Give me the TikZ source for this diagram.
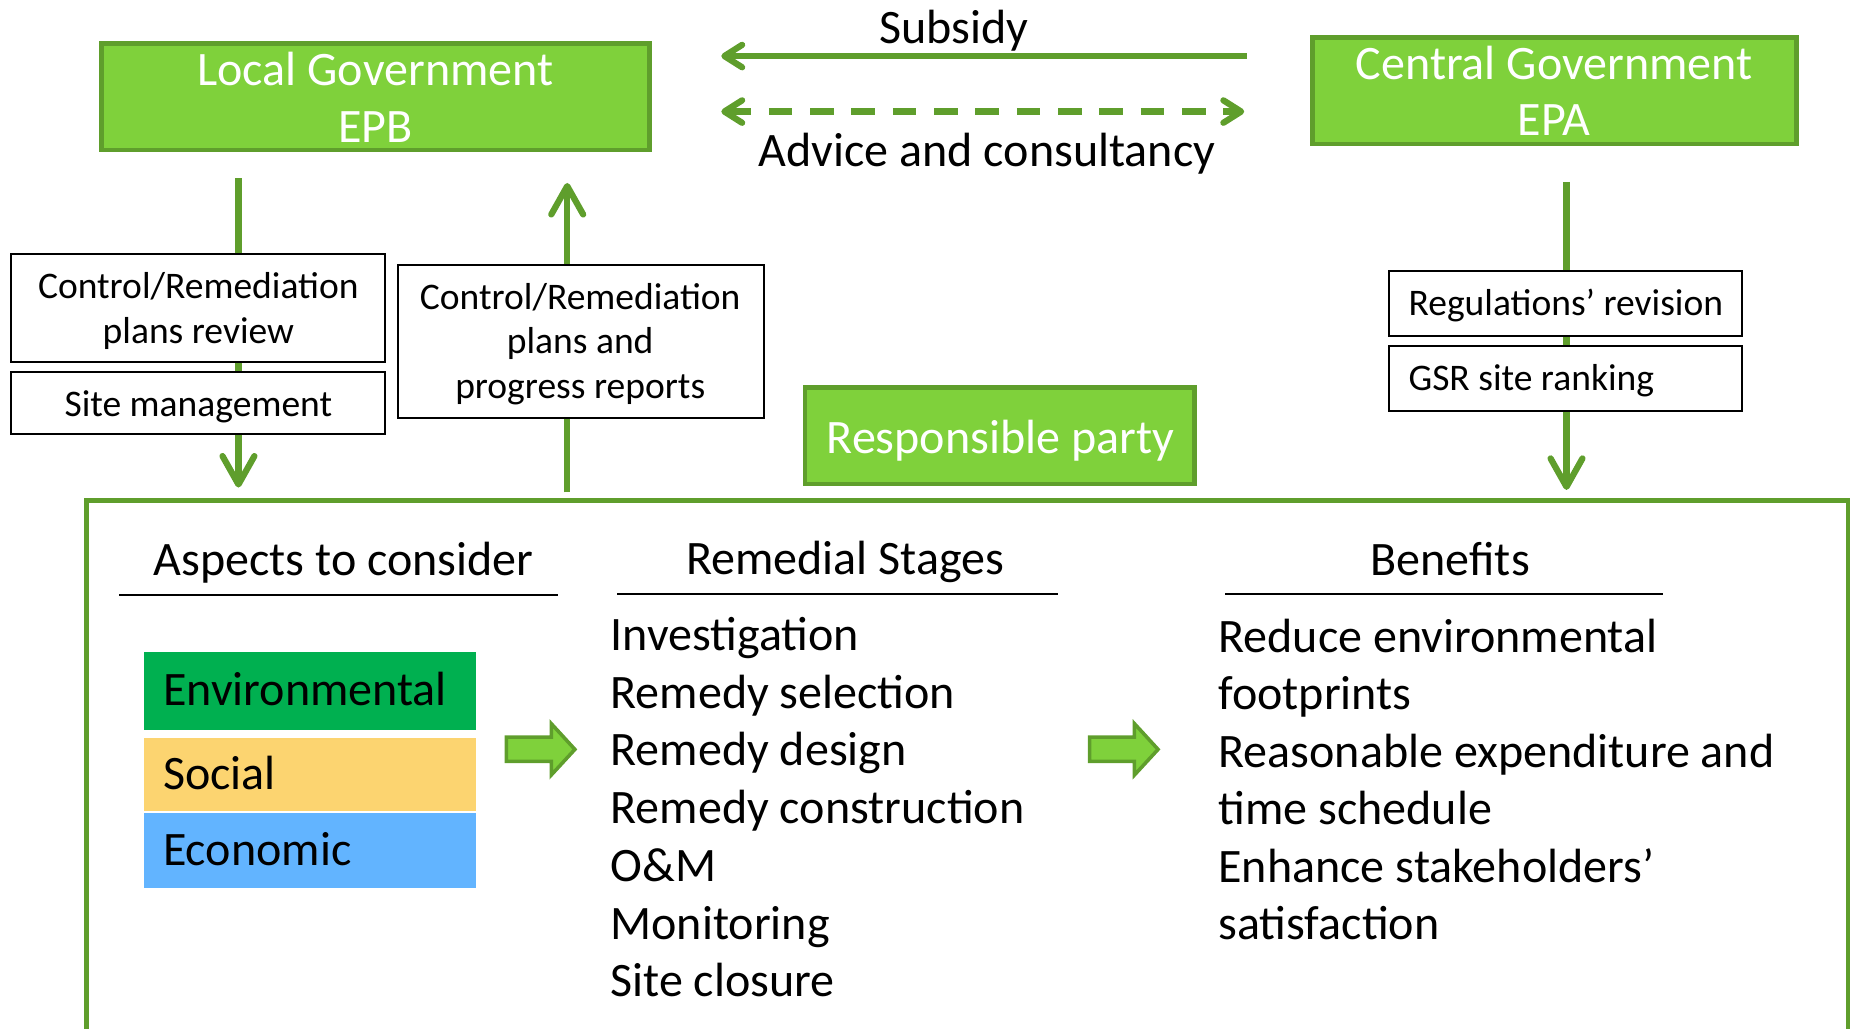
\documentclass[tikz,border=0pt]{standalone}
\usepackage{fontspec}
\setmainfont{Carlito}
\usetikzlibrary{arrows.meta}

\definecolor{gfill}{HTML}{7FD13B}
\definecolor{gline}{HTML}{5F9E2C}
\definecolor{envgreen}{HTML}{00B050}
\definecolor{socyellow}{HTML}{FCD470}
\definecolor{ecoblue}{HTML}{62B4FF}

\tikzset{
  big/.style={font=\fontsize{40.7}{48}\selectfont, inner sep=0pt},
  small/.style={font=\fontsize{31.8}{37}\selectfont, inner sep=0pt},
  greenbox/.style={draw=gline, fill=gfill, line width=4pt, inner sep=0pt},
  whitebox/.style={draw=black, fill=white, line width=1.8pt, inner sep=0pt},
  tagbox/.style={fill=#1, draw=none, inner sep=0pt, minimum width=281pt},
  vflow/.style={draw=gline, line width=5.3pt, -{Straight Barb[length=24pt, width=27pt, round]}},
  hflow/.style={draw=gline, line width=5.3pt, -{Straight Barb[length=15pt, width=19pt, round]}},
  hflowboth/.style={draw=gline, line width=5.3pt, dash pattern=on 20pt off 15pt,
    {Straight Barb[length=15pt, width=19pt, round]}-{Straight Barb[length=15pt, width=19pt, round]}},
  blockarrow/.style={draw=gline, fill=gfill, line width=3pt, line join=miter},
  frame/.style={draw=gline, line width=4pt},
  rule/.style={draw=black, line width=1.8pt},
}

\begin{document}
\begin{tikzpicture}[x=1pt, y=-1pt]
\useasboundingbox (0,0) rectangle (1568,871);

% ---- connector end points ----
\coordinate (subFrom) at (1056,47.5);
\coordinate (subTo)   at (611,47.5);
\coordinate (advL)    at (611,94.5);
\coordinate (advR)    at (1054,94.5);
\coordinate (lgOut)   at (202,151);
\coordinate (lgDown)  at (202,413);
\coordinate (rpOut)   at (480.5,417);
\coordinate (lgIn)    at (480.5,155);
\coordinate (cgOut)   at (1327,154);
\coordinate (cgDown)  at (1327,415);

% ---- flows between the authorities and the site ----
\draw[hflow] (subFrom) -- (subTo);
\draw[hflowboth] (advL) -- (advR);
\draw[vflow] (lgOut) -- (lgDown);
\draw[vflow] (rpOut) -- (lgIn);
\draw[vflow] (cgOut) -- (cgDown);

% ---- authorities ----
\node[greenbox, minimum width=464pt, minimum height=90pt] (lg) at (318,82) {};
\node[big, white, anchor=base] (lgT1) at (318,72.5) {Local Government};
\node[big, white, anchor=base] (lgT2) at (318,120.5) {EPB};

\node[greenbox, minimum width=410pt, minimum height=90.5pt] (cg) at (1317,76.75) {};
\node[big, white, anchor=base] (cgT1) at (1316.5,67) {Central Government};
\node[big, white, anchor=base] (cgT2) at (1316.5,114.5) {EPA};

\node[big, anchor=base] (subsidy) at (808,36.5) {Subsidy};
\node[big, anchor=base] (advice) at (836,141) {Advice and consultancy};

% ---- tasks along the flows ----
\node[whitebox, minimum width=317pt, minimum height=91pt] (crr) at (168,261) {};
\node[small, anchor=base] (crrT1) at (168,252.8) {Control/Remediation};
\node[small, anchor=base] (crrT2) at (168,290.9) {plans review};

\node[whitebox, minimum width=317pt, minimum height=53pt] (sm) at (168,341.5) {};
\node[small, anchor=base] (smT) at (168,353) {Site management};

\node[whitebox, minimum width=310pt, minimum height=129.5pt] (crp) at (492,289.25) {};
\node[small, anchor=base] (crpT1) at (491.5,262.5) {Control/Remediation};
\node[small, anchor=base] (crpT2) at (491.5,299.3) {plans and};
\node[small, anchor=base] (crpT3) at (491.5,337.4) {progress reports};

\node[whitebox, minimum width=299.5pt, minimum height=55pt] (reg) at (1326.25,257.1) {};
\node[small, anchor=base west] (regT) at (1193,267) {Regulations’ revision};

\node[whitebox, minimum width=299.5pt, minimum height=55pt] (gsr) at (1326.25,320.5) {};
\node[small, anchor=base west] (gsrT) at (1193,330.5) {GSR site ranking};

\node[greenbox, minimum width=330pt, minimum height=82pt] (rp) at (847,369) {};
\node[big, white, anchor=base] (rpT) at (847.5,384) {Responsible party};

% ---- responsible party's frame ----
\draw[frame] (73,876) -- (73,424) -- (1565.5,424) -- (1565.5,876);

% column headings
\node[big, anchor=base] (hAsp) at (291,487.5) {Aspects to consider};
\node[big, anchor=base] (hRem) at (716,486.5) {Remedial Stages};
\node[big, anchor=base] (hBen) at (1228.5,487.5) {Benefits};
\draw[rule] (101,504) -- (473,504);
\draw[rule] (523,503.5) -- (896,503.5);
\draw[rule] (1038,503) -- (1409,503);

% aspects
\node[tagbox=envgreen, minimum height=66pt] (env) at (262.5,585) {};
\node[tagbox=socyellow, minimum height=62pt] (soc) at (262.5,656) {};
\node[tagbox=ecoblue, minimum height=63pt] (eco) at (262.5,720.5) {};
\node[big, anchor=base west] (envT) at (138,597.5) {Environmental};
\node[big, anchor=base west] (socT) at (138,668.5) {Social};
\node[big, anchor=base west] (ecoT) at (138,733.5) {Economic};

% block arrows between the columns
\foreach \dx in {0,494}{
  \draw[blockarrow, xshift=\dx pt]
    (429,624.5) -- (467,624.5) -- (467,613) -- (487,634.8)
    -- (467,656.5) -- (467,645) -- (429,645) -- cycle;
}

% remedial stages
\foreach \t [count=\i from 0] in {Investigation, Remedy selection, Remedy design,
  Remedy construction, O\&M, Monitoring, Site closure}{
  \node[big, anchor=base west] (stage\i) at (517,551+48.9*\i) {\t};
}

% benefits
\foreach \t [count=\i from 0] in {Reduce environmental, footprints,
  Reasonable expenditure and, time schedule, Enhance stakeholders’, satisfaction}{
  \node[big, anchor=base west] (ben\i) at (1032,552.5+48.7*\i) {\t};
}
\end{tikzpicture}
\end{document}
